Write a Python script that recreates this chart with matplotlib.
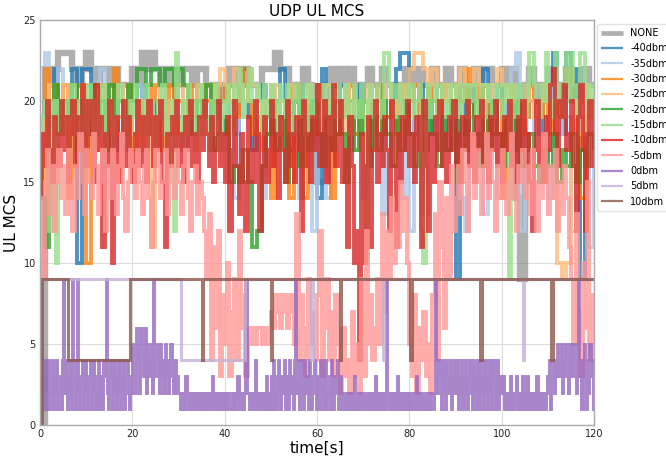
import numpy as np
import matplotlib
matplotlib.use("Agg")
import matplotlib.pyplot as plt

# ---------------- data ----------------
labels = ["NONE", "-40dbm", "-35dbm", "-30dbm", "-25dbm", "-20dbm",
          "-15dbm", "-10dbm", "-5dbm", "0dbm", "5dbm", "10dbm"]
colors = ["#7f7f7f", "#1f77b4", "#aec7e8", "#ff7f0e", "#ffbb78", "#2ca02c",
          "#98df8a", "#d62728", "#ff9896", "#9467bd", "#c5b0d5", "#8c564b"]

# 1 s sampled series (t = 0..120)
mcs_none = [0, 22, 21, 22, 23, 23, 23, 22, 21, 22, 23, 22, 21, 22, 22, 21, 22, 21, 21, 21,
            22, 21, 23, 22, 23, 22, 21, 22, 21, 22, 21, 22, 22, 21, 22, 22, 21, 21, 20, 21,
            21, 22, 21, 22, 22, 21, 21, 21, 22, 22, 22, 23, 22, 22, 21, 20, 21, 22, 21, 20,
            15, 15, 21, 22, 21, 22, 21, 22, 21, 20, 21, 22, 21, 21, 22, 21, 21, 20, 21, 22,
            22, 21, 22, 21, 21, 22, 21, 21, 22, 21, 21, 22, 21, 20, 22, 21, 22, 22, 21, 21,
            22, 21, 22, 14, 9, 21, 22, 21, 20, 21, 22, 21, 20, 21, 22, 21, 20, 21, 22, 21, 21]
mcs_m40 = [14, 19, 20, 22, 18, 21, 20, 22, 10, 22, 22, 20, 18, 21, 19, 20, 17, 19, 21, 20,
           18, 19, 21, 18, 20, 17, 19, 20, 18, 21, 19, 17, 20, 18, 21, 19, 20, 17, 18, 20,
           21, 19, 18, 20, 22, 19, 17, 20, 21, 19, 18, 20, 22, 19, 17, 20, 21, 18, 19, 20,
           14, 22, 19, 20, 18, 21, 19, 20, 18, 21, 19, 17, 20, 18, 21, 19, 20, 22, 23, 23,
           20, 18, 21, 19, 20, 18, 21, 19, 17, 20, 9, 20, 18, 21, 19, 20, 22, 19, 18, 21,
           19, 20, 17, 20, 21, 19, 20, 20, 18, 21, 20, 23, 19, 18, 23, 20, 22, 9, 19, 20, 19]
mcs_m35 = [14, 23, 21, 20, 22, 19, 21, 18, 20, 17, 21, 19, 20, 22, 18, 20, 19, 21, 17, 20,
           18, 21, 19, 20, 17, 19, 21, 18, 20, 19, 21, 17, 20, 18, 19, 21, 20, 18, 19, 17,
           20, 18, 14, 19, 21, 20, 18, 19, 14, 20, 18, 21, 19, 17, 20, 18, 14, 19, 21, 12,
           19, 20, 14, 18, 20, 19, 21, 17, 19, 20, 14, 18, 20, 19, 13, 21, 18, 20, 14, 19,
           12, 20, 18, 13, 19, 21, 17, 20, 18, 19, 21, 14, 12, 19, 18, 20, 13, 19, 21, 14,
           18, 20, 22, 23, 12, 19, 21, 18, 20, 19, 14, 21, 18, 20, 19, 12, 20, 19, 21, 11, 20]
mcs_m30 = [14, 22, 20, 21, 19, 21, 14, 20, 21, 18, 10, 20, 19, 21, 17, 20, 22, 18, 19, 21,
           17, 20, 18, 19, 21, 20, 17, 19, 21, 18, 20, 19, 21, 20, 21, 21, 20, 21, 21, 20,
           21, 20, 19, 22, 21, 20, 18, 19, 17, 20, 14, 19, 18, 20, 14, 21, 19, 14, 20, 18,
           21, 19, 20, 14, 18, 20, 19, 21, 18, 20, 19, 17, 20, 21, 18, 19, 20, 18, 21, 19,
           20, 21, 19, 20, 21, 20, 19, 21, 20, 19, 21, 20, 22, 20, 19, 21, 20, 18, 19, 20,
           14, 19, 21, 20, 18, 19, 21, 20, 19, 21, 18, 20, 19, 21, 22, 20, 18, 14, 19, 20, 19]
mcs_m25 = [14, 19, 21, 20, 18, 21, 19, 20, 18, 21, 19, 20, 17, 19, 21, 18, 20, 19, 21, 18,
           20, 19, 17, 20, 11, 19, 21, 18, 20, 19, 21, 18, 20, 19, 21, 20, 21, 20, 21, 22,
           21, 20, 22, 21, 20, 22, 21, 19, 20, 18, 21, 19, 20, 18, 21, 19, 17, 20, 21, 19,
           20, 18, 21, 19, 20, 18, 21, 19, 20, 17, 19, 21, 20, 18, 19, 21, 20, 19, 21, 20,
           22, 23, 23, 22, 21, 22, 21, 20, 21, 20, 21, 22, 21, 21, 22, 21, 21, 20, 21, 22,
           21, 20, 21, 20, 19, 21, 20, 19, 20, 21, 20, 19, 10, 9, 10, 19, 20, 18, 21, 19, 20]
mcs_m20 = [14, 11, 19, 21, 18, 20, 19, 21, 17, 20, 18, 21, 19, 20, 17, 21, 19, 20, 18, 21,
           20, 22, 22, 21, 22, 22, 21, 22, 22, 21, 22, 21, 19, 18, 20, 19, 21, 17, 20, 18,
           19, 15, 16, 15, 17, 15, 11, 12, 16, 18, 20, 17, 19, 15, 18, 20, 16, 19, 17, 20,
           18, 16, 19, 17, 20, 18, 15, 19, 17, 20, 18, 16, 19, 17, 20, 18, 16, 19, 17, 20,
           18, 16, 19, 17, 20, 18, 16, 19, 17, 20, 15, 19, 17, 20, 18, 16, 19, 17, 20, 18,
           16, 19, 17, 20, 16, 17, 18, 16, 15, 17, 16, 18, 15, 17, 16, 18, 15, 17, 16, 18, 17]

# 0.5 s sampled series (t = 0..120)
mcs_m15 = [14, 19, 20, 18, 12, 20, 19, 10, 20, 18,  19, 20, 17, 19, 21, 18, 20, 19, 17, 20,
           18, 21, 19, 17, 20, 18, 19, 21, 17, 19,  20, 18, 17, 19, 21, 20, 18, 19, 17, 20,
           19, 21, 18, 20, 17, 19, 21, 18, 20, 19,  17, 20, 19, 21, 18, 15, 19, 20, 12, 23,
           19, 17, 20, 18, 21, 19, 20, 17, 19, 21,  18, 20, 19, 17, 20, 18, 21, 19, 17, 20,
           19, 21, 20, 18, 21, 20, 22, 21, 19, 20,  21, 22, 20, 19, 21, 20, 18, 21, 19, 20,
           21, 19, 20, 18, 21, 20, 19, 21, 20, 18,  20, 21, 19, 20, 21, 18, 20, 21, 19, 20,
           21, 20, 19, 21, 20, 18, 21, 20, 19, 21,  20, 19, 21, 20, 18, 20, 21, 19, 20, 21,
           19, 10, 20, 21, 19, 20, 21, 20, 19, 23,  23, 21, 20, 19, 21, 20, 21, 19, 20, 21,
           20, 21, 19, 20, 21, 12, 10, 20, 21, 19,  20, 21, 19, 20, 21, 20, 19, 21, 20, 19,
           21, 20, 19, 21, 20, 19, 21, 20, 21, 19,  20, 21, 19, 20, 21, 20, 19, 21, 20, 21,
           19, 20, 21, 9, 20, 21, 19, 20, 21, 20,   19, 21, 23, 23, 21, 20, 19, 21, 20, 23,
           21, 20, 19, 23, 21, 20, 19, 21, 23, 20,  23, 21, 20, 19, 23, 23, 21, 20, 19, 21,
           20]
mcs_m10 = [14, 18, 16, 20, 17, 15, 19, 18, 16, 20,  17, 19, 15, 18, 20, 16, 19, 17, 21, 18,
           16, 20, 18, 15, 21, 17, 19, 11, 18, 16,  20, 10, 17, 19, 15, 18, 20, 16, 19, 17,
           15, 18, 20, 16, 19, 17, 15, 20, 18, 16,  19, 17, 20, 15, 11, 18, 16, 19, 17, 20,
           16, 18, 15, 19, 17, 20, 16, 18, 15, 19,  17, 20, 18, 16, 19, 15, 17, 20, 16, 18,
           15, 19, 12, 17, 20, 16, 13, 18, 15, 12,  19, 17, 15, 20, 18, 12, 16, 19, 15, 17,
           20, 16, 18, 14, 19, 17, 15, 20, 16, 18,  15, 19, 17, 12, 20, 16, 18, 15, 19, 17,
           21, 16, 18, 20, 15, 19, 17, 21, 16, 18,  20, 15, 17, 11, 19, 16, 10, 12, 4, 18,
           10, 16, 19, 11, 17, 20, 15, 18, 16, 19,  17, 12, 20, 16, 11, 18, 15, 19, 17, 20,
           16, 18, 15, 19, 17, 11, 20, 16, 12, 18,  15, 19, 17, 20, 16, 18, 15, 19, 17, 20,
           16, 18, 15, 19, 17, 20, 16, 18, 15, 19,  17, 20, 16, 18, 15, 19, 17, 20, 16, 18,
           15, 19, 17, 20, 16, 18, 15, 19, 17, 20,  16, 18, 15, 12, 17, 20, 16, 18, 15, 19,
           17, 21, 22, 18, 16, 20, 19, 21, 17, 18,  20, 16, 12, 19, 21, 17, 12, 18, 20, 16,
           17]
mcs_m5 = [14, 9, 15, 17, 13, 16, 12, 15, 17, 14,  16, 13, 17, 15, 12, 16, 14, 18, 15, 13,
          17, 15, 14, 18, 16, 13, 15, 17, 12, 16,  14, 17, 15, 13, 16, 18, 14, 12, 15, 17,
          16, 14, 17, 15, 13, 16, 17, 14, 11, 15,  17, 16, 14, 15, 17, 13, 16, 15, 14, 17,
          15, 13, 16, 17, 14, 12, 15, 16, 13, 15,  14, 12, 9, 13, 4, 11, 6, 12, 3, 8,
          5, 10, 3, 7, 9, 4, 12, 6, 8, 3,  6, 5, 6, 5, 6, 6, 5, 6, 5, 6,
          7, 6, 8, 7, 6, 8, 7, 6, 8, 7,  5, 13, 4, 8, 6, 3, 9, 5, 7, 4,
          8, 12, 3, 6, 9, 4, 7, 3, 8, 5,  2, 6, 3, 4, 2, 7, 3, 5, 2, 9,
          3, 12, 5, 8, 4, 6, 9, 5, 13, 7,  12, 9, 14, 10, 13, 11, 15, 12, 14, 10,
          5, 3, 8, 2, 6, 4, 7, 3, 5, 2,  8, 13, 4, 15, 11, 6, 14, 9, 16, 12,
          14, 16, 13, 17, 15, 12, 16, 18, 14, 17,  15, 13, 16, 18, 14, 17, 15, 12, 16, 14,
          17, 15, 13, 16, 18, 14, 12, 16, 15, 17,  14, 16, 13, 17, 15, 12, 16, 14, 18, 15,
          13, 16, 14, 17, 12, 15, 13, 16, 14, 11,  9, 5, 13, 7, 3, 10, 6, 15, 4, 8,
          5]

# 0.25 s sampled series (t = 0..120)
mcs_0 = [0, 3, 1, 4, 2, 1, 3, 4, 1, 2, 4, 1, 3, 2, 4, 1, 2, 3, 1, 4,
         9, 2, 4, 1, 3, 2, 4, 1, 9, 3, 1, 4, 9, 2, 1, 3, 4, 1, 2, 4,
         2, 1, 3, 4, 1, 2, 4, 3, 1, 2, 4, 1, 3, 2, 1, 4, 3, 9, 2, 1,
         3, 4, 1, 2, 4, 3, 1, 2, 4, 1, 3, 2, 4, 1, 3, 4, 2, 1, 3, 2,
         5, 3, 2, 6, 4, 5, 2, 6, 5, 3, 4, 6, 2, 5, 3, 4, 5, 2, 9, 3,
         4, 5, 3, 2, 5, 3, 4, 2, 5, 3, 4, 2, 3, 5, 4, 2, 3, 4, 2, 3,
         2, 1, 2, 1, 2, 1, 3, 2, 1, 2, 1, 2, 1, 2, 1, 1, 2, 2, 1, 2,
         1, 2, 1, 2, 1, 2, 1, 2, 1, 3, 2, 1, 2, 1, 2, 1, 2, 1, 2, 1,
         1, 2, 1, 2, 1, 1, 2, 1, 2, 1, 2, 3, 1, 2, 1, 2, 1, 2, 9, 2,
         2, 1, 2, 1, 2, 1, 4, 2, 1, 2, 1, 2, 1, 1, 2, 1, 3, 1, 2, 1,
         3, 1, 4, 2, 1, 3, 4, 2, 1, 3, 2, 4, 1, 3, 2, 1, 4, 2, 3, 1,
         4, 9, 2, 4, 1, 3, 4, 2, 1, 4, 2, 3, 1, 4, 2, 1, 3, 4, 2, 1,
         2, 3, 1, 4, 2, 1, 3, 4, 1, 2, 3, 1, 4, 2, 1, 3, 2, 4, 1, 2,
         3, 1, 2, 1, 2, 1, 2, 1, 2, 1, 2, 1, 3, 1, 2, 1, 2, 1, 1, 2,
         2, 1, 2, 1, 2, 1, 2, 1, 2, 1, 3, 1, 2, 1, 2, 1, 2, 1, 2, 1,
         9, 2, 1, 2, 1, 2, 1, 2, 1, 3, 1, 2, 1, 2, 1, 2, 1, 2, 1, 2,
         1, 2, 1, 2, 1, 2, 3, 1, 2, 1, 2, 1, 2, 1, 2, 1, 2, 1, 2, 1,
         1, 2, 9, 4, 2, 3, 4, 1, 2, 4, 3, 1, 4, 2, 3, 4, 1, 3, 2, 4,
         2, 4, 1, 3, 2, 4, 1, 3, 4, 2, 1, 3, 4, 2, 1, 4, 2, 3, 1, 4,
         1, 4, 2, 3, 1, 4, 2, 1, 3, 4, 2, 1, 4, 3, 1, 2, 4, 1, 3, 2,
         2, 3, 1, 2, 1, 2, 1, 3, 1, 2, 1, 2, 3, 1, 2, 1, 2, 1, 3, 1,
         2, 1, 3, 1, 2, 1, 2, 1, 2, 1, 3, 1, 2, 1, 2, 1, 2, 1, 2, 3,
         3, 4, 1, 3, 4, 2, 4, 3, 5, 4, 3, 5, 2, 4, 3, 5, 4, 2, 5, 3,
         5, 3, 5, 4, 2, 5, 9, 4, 3, 1, 4, 5, 3, 1, 4, 2, 5, 3, 4, 1,
         3]

# change-point series
t_p5 = [0, 0.5, 30.5, 44.5, 58.8, 59.1, 74.2, 74.5, 104.6, 104.9, 120]
mcs_p5 = [0, 9, 4, 9, 4, 9, 4, 9, 4, 9, 9]
t_p10 = [0, 0.4, 6, 19.5, 35, 35.3, 50, 50.3, 65, 65.3, 80.2, 80.5, 95.4, 95.7, 110.7, 111, 120]
mcs_p10 = [0, 9, 4, 9, 4, 9, 4, 9, 4, 9, 4, 9, 4, 9, 4, 9, 9]


def times(vals, step):
    return np.arange(len(vals)) * step


series = [(times(mcs_none, 1.0), mcs_none), (times(mcs_m40, 1.0), mcs_m40),
          (times(mcs_m35, 1.0), mcs_m35), (times(mcs_m30, 1.0), mcs_m30),
          (times(mcs_m25, 1.0), mcs_m25), (times(mcs_m20, 1.0), mcs_m20),
          (times(mcs_m15, 0.5), mcs_m15), (times(mcs_m10, 0.5), mcs_m10),
          (times(mcs_m5, 0.5), mcs_m5), (times(mcs_0, 0.25), mcs_0),
          (t_p5, mcs_p5), (t_p10, mcs_p10)]

# ---------------- plot ----------------
fig = plt.figure(figsize=(6.66, 4.58), dpi=100)
ax = fig.add_axes([0.060, 0.072, 0.832, 0.884])

handles = []
for (tt, vv), lab, col in zip(series, labels, colors):
    if lab == "NONE":
        lw, al = 4.6, 0.62
    elif lab in ("5dbm", "10dbm"):
        lw, al = 2.2, 0.8
    elif lab == "0dbm":
        lw, al = 2.1, 0.8
    else:
        lw, al = 2.8, 0.8
    ln, = ax.plot(tt, vv, color=col, lw=lw, alpha=al, drawstyle="steps-post",
                  solid_joinstyle="miter", solid_capstyle="butt", label=lab)
    handles.append(ln)

ax.set_xlim(0, 120)
ax.set_ylim(0, 25)
ax.set_xticks(range(0, 121, 20))
ax.set_yticks(range(0, 26, 5))
ax.grid(True, color="#dcdcdc", lw=0.8)
ax.set_axisbelow(True)
for s in ax.spines.values():
    s.set_color("#aaaaaa")
    s.set_linewidth(1.0)
ax.tick_params(axis="both", length=0, labelsize=7, pad=3, colors="#222222")

ax.set_title("UDP UL MCS", fontsize=11, pad=3)
ax.set_xlabel("time[s]", fontsize=11, labelpad=1)
ax.set_ylabel("UL MCS", fontsize=11, labelpad=3)

leg = ax.legend(handles=handles, loc="upper left", bbox_to_anchor=(1.002, 0.995),
                fontsize=7, frameon=True, borderaxespad=0.2, labelspacing=0.55,
                handlelength=2.3, handletextpad=0.7, fancybox=True)
leg.get_frame().set_edgecolor("#dddddd")
for h, lab in zip(leg.legend_handles, labels):
    h.set_linewidth(3.4 if lab == "NONE" else 1.6)

fig.savefig("out.png", dpi=100)
